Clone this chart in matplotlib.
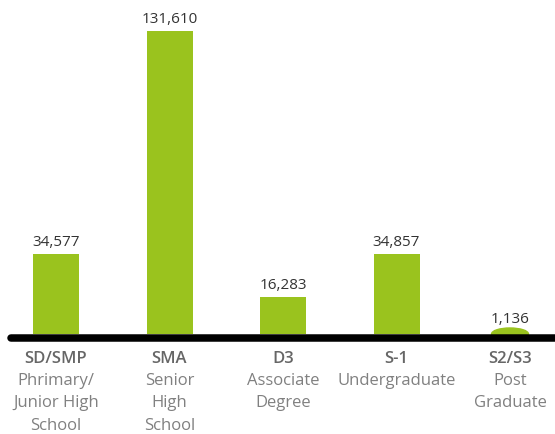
import matplotlib
matplotlib.use("Agg")
import matplotlib.pyplot as plt
import matplotlib.transforms as mtransforms
from matplotlib.patches import Ellipse

codes = ["SD/SMP", "SMA", "D3", "S-1", "S2/S3"]
descriptions = ["Phrimary/\nJunior High\nSchool", "Senior\nHigh\nSchool",
                "Associate\nDegree", "Undergraduate", "Post\nGraduate"]
values = [34577, 131610, 16283, 34857, 1136]
value_labels = ["34,577", "131,610", "16,283", "34,857", "1,136"]

GREEN = "#9AC31E"
W, H = 555, 434
fig = plt.figure(figsize=(W / 100, H / 100), dpi=100)
ax = fig.add_axes([0, 0, 1, 1])
ax.set_axis_off()

# scales: first center at 56px, spacing 113.5px; baseline 100px from bottom, max at 403px
sp = 113.5
x0 = -56 / sp
ax.set_xlim(x0, x0 + W / sp)
ppv = 303 / max(values)
ax.set_ylim(-100 / ppv, (H - 100) / ppv)

x = list(range(len(codes)))
bars = ax.bar(x, values, width=46 / sp, color=GREEN, zorder=2)

# the smallest value is drawn as a rounded bump
imin = values.index(min(values))
bars[imin].set_visible(False)
ax.add_patch(Ellipse((x[imin], 0), width=37 / sp, height=2 * values[imin] * 2.3,
                     color=GREEN, zorder=2))

# baseline
off = mtransforms.ScaledTranslation(0, -4 / 100, fig.dpi_scale_trans)
ax.plot([x0 + 11 / sp, x0 + 600 / sp], [0, 0], color="black", lw=5.4,
        solid_capstyle="round", transform=ax.transData + off, zorder=3)

fam = ["Open Sans", "DejaVu Sans"]
for xi, v, lab in zip(x, values, value_labels):
    ax.annotate(lab, xy=(xi, v), xytext=(0, 8 / 1.389), textcoords="offset points",
                ha="center", va="baseline", fontsize=11, color="#333333",
                fontweight="medium", family=fam)

baselines = [29, 51, 73.5, 96]  # px below baseline
for xi, c, d in zip(x, codes, descriptions):
    ax.annotate(c, xy=(xi, 0), xytext=(0, -baselines[0] / 1.389), textcoords="offset points",
                ha="center", va="baseline", fontsize=12, fontweight="semibold",
                color="#666666", family=fam)
    for i, line in enumerate(d.split("\n")):
        ax.annotate(line, xy=(xi, 0), xytext=(0, -baselines[i + 1] / 1.389),
                    textcoords="offset points", ha="center", va="baseline",
                    fontsize=12, color="#808080", family=fam)

fig.savefig("out.png", dpi=100)
